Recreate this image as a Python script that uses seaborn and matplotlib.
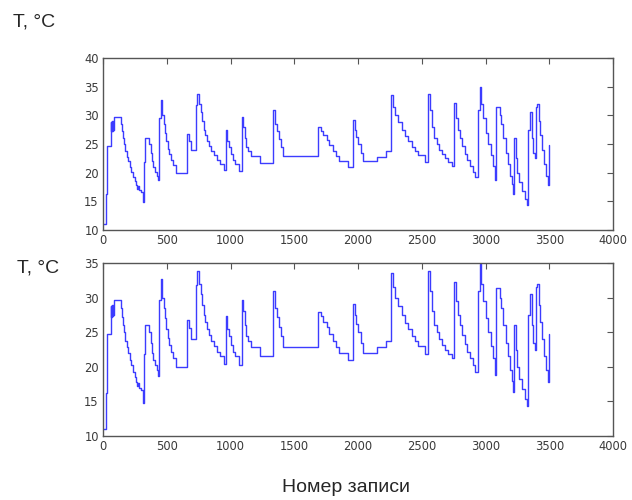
import matplotlib
matplotlib.use("Agg")
import matplotlib.pyplot as plt
import seaborn as sns
import pandas as pd

# Record number (x) and temperature (y) breakpoints (step-wise series)
record = [0, 24, 34, 60, 64, 68, 72, 76, 80, 86,
          139, 146, 154, 165, 175, 186, 196, 212, 222, 238, 248, 259, 269, 278, 285, 295, 311, 316,
          322, 332, 358, 363, 374, 382, 395, 408, 421, 431,
          442, 455, 465, 476, 486, 497, 507, 520, 533, 552, 570,
          661, 675, 690,
          729, 740, 753, 766, 776, 790, 803, 818, 834, 850, 871, 892, 918, 952,
          965, 975, 988, 1001, 1017, 1038, 1064,
          1088, 1101, 1111, 1122, 1137, 1158, 1231,
          1336, 1352, 1367, 1383, 1399, 1414,
          1689, 1707, 1728, 1754, 1775, 1801, 1827, 1854, 1924,
          1963, 1974, 1984, 2003, 2022, 2037, 2152, 2220,
          2259, 2272, 2290, 2316, 2343, 2369, 2395, 2421, 2447, 2473, 2526,
          2551, 2565, 2580, 2596, 2617, 2638, 2659, 2682, 2709, 2735,
          2753, 2769, 2785, 2800, 2819, 2837, 2858, 2879, 2900, 2918,
          2944, 2955, 2968, 2984, 3003, 3021, 3042, 3060, 3073,
          3081, 3110, 3122, 3138, 3157, 3175, 3193, 3206, 3219,
          3224, 3237, 3250, 3266, 3287, 3311, 3329,
          3336, 3349, 3362, 3375, 3386,
          3396, 3407, 3417, 3428, 3443, 3459, 3475, 3486, 3499]
temp = [11.0, 16.2, 24.7, 28.8, 27.2, 29.0, 27.3, 29.0, 27.5, 29.7,
        28.5, 27.2, 26.0, 25.0, 23.8, 22.8, 22.0, 21.0, 20.2, 19.3, 18.5, 17.8, 17.2, 17.6, 16.9, 16.6, 16.2, 14.8,
        21.8, 26.1, 25.8, 25.0, 23.5, 22.0, 21.0, 20.2, 19.5, 18.7,
        29.6, 32.7, 30.0, 28.5, 27.0, 25.5, 24.2, 23.2, 22.2, 21.3, 20.0,
        26.8, 25.6, 24.0,
        31.8, 33.8, 32.0, 30.5, 29.0, 27.5, 26.5, 25.5, 24.6, 23.7, 23.0, 22.2, 21.5, 20.4,
        27.4, 25.5, 24.5, 23.2, 22.2, 21.5, 20.3,
        29.7, 28.0, 26.0, 24.5, 23.7, 22.9, 21.6,
        31.0, 28.5, 27.2, 25.8, 24.5, 22.9,
        27.9, 27.3, 26.5, 25.7, 24.8, 23.8, 22.9, 22.0, 21.0,
        29.1, 27.5, 26.2, 25.0, 23.5, 22.0, 22.8, 23.8,
        33.6, 31.5, 30.0, 28.8, 27.5, 26.4, 25.5, 24.4, 23.7, 23.0, 21.8,
        33.8, 31.0, 28.0, 26.0, 25.0, 24.0, 23.2, 22.5, 21.8, 21.2,
        32.2, 29.5, 27.5, 26.0, 24.6, 23.3, 22.2, 21.2, 20.2, 19.2,
        31.0, 34.9, 32.0, 29.5, 27.0, 25.0, 23.0, 21.2, 18.8,
        31.4, 30.0, 28.5, 26.0, 23.5, 21.5, 19.5, 18.0, 16.3,
        26.0, 22.5, 20.0, 18.3, 16.8, 15.4, 14.4,
        27.5, 30.5, 26.0, 23.5, 22.5,
        31.5, 32.0, 29.0, 26.5, 24.0, 21.5, 19.5, 17.8, 24.8]

x_ticks = [0, 500, 1000, 1500, 2000, 2500, 3000, 3500, 4000]
y_ticks_top = [10, 15, 20, 25, 30, 35, 40]
y_ticks_bottom = [10, 15, 20, 25, 30, 35]
y_label = "T, °C"
x_label = "Номер записи"

df = pd.DataFrame({"record": record, "temp": temp})

sns.set_style("white")
plt.rcParams["font.family"] = ["DejaVu Sans"]

fig = plt.figure(figsize=(6.32, 5.0), dpi=100)
ax1 = fig.add_axes([0.163, 0.540, 0.807, 0.344])
ax2 = fig.add_axes([0.163, 0.128, 0.807, 0.346])

for ax, yt in ((ax1, y_ticks_top), (ax2, y_ticks_bottom)):
    sns.lineplot(data=df, x="record", y="temp", ax=ax, color="#3c3cff", linewidth=1.0,
                 drawstyle="steps-post", estimator=None, sort=False)
    ax.set_xlim(x_ticks[0], x_ticks[-1])
    ax.set_ylim(yt[0], yt[-1])
    ax.set_xticks(x_ticks)
    ax.set_yticks(yt)
    ax.set_xlabel("")
    ax.set_ylabel("")
    ax.tick_params(direction="in", top=True, right=True, length=4, width=0.8,
                   color="#555555", labelsize=8.3, labelcolor="#3a3a3a", pad=3)
    for s in ax.spines.values():
        s.set_visible(True)
        s.set_color("#555555")
        s.set_linewidth(1.0)

fig.text(0.021, 0.956, y_label, fontsize=14, family=["Liberation Sans", "DejaVu Sans"],
         va="center", ha="left")
fig.text(0.027, 0.464, y_label, fontsize=14, family=["Liberation Sans", "DejaVu Sans"],
         va="center", ha="left")
fig.text(0.548, 0.024, x_label, fontsize=14, family=["Liberation Sans", "DejaVu Sans"],
         va="center", ha="center")

fig.savefig("out.png", dpi=100, facecolor="white")
